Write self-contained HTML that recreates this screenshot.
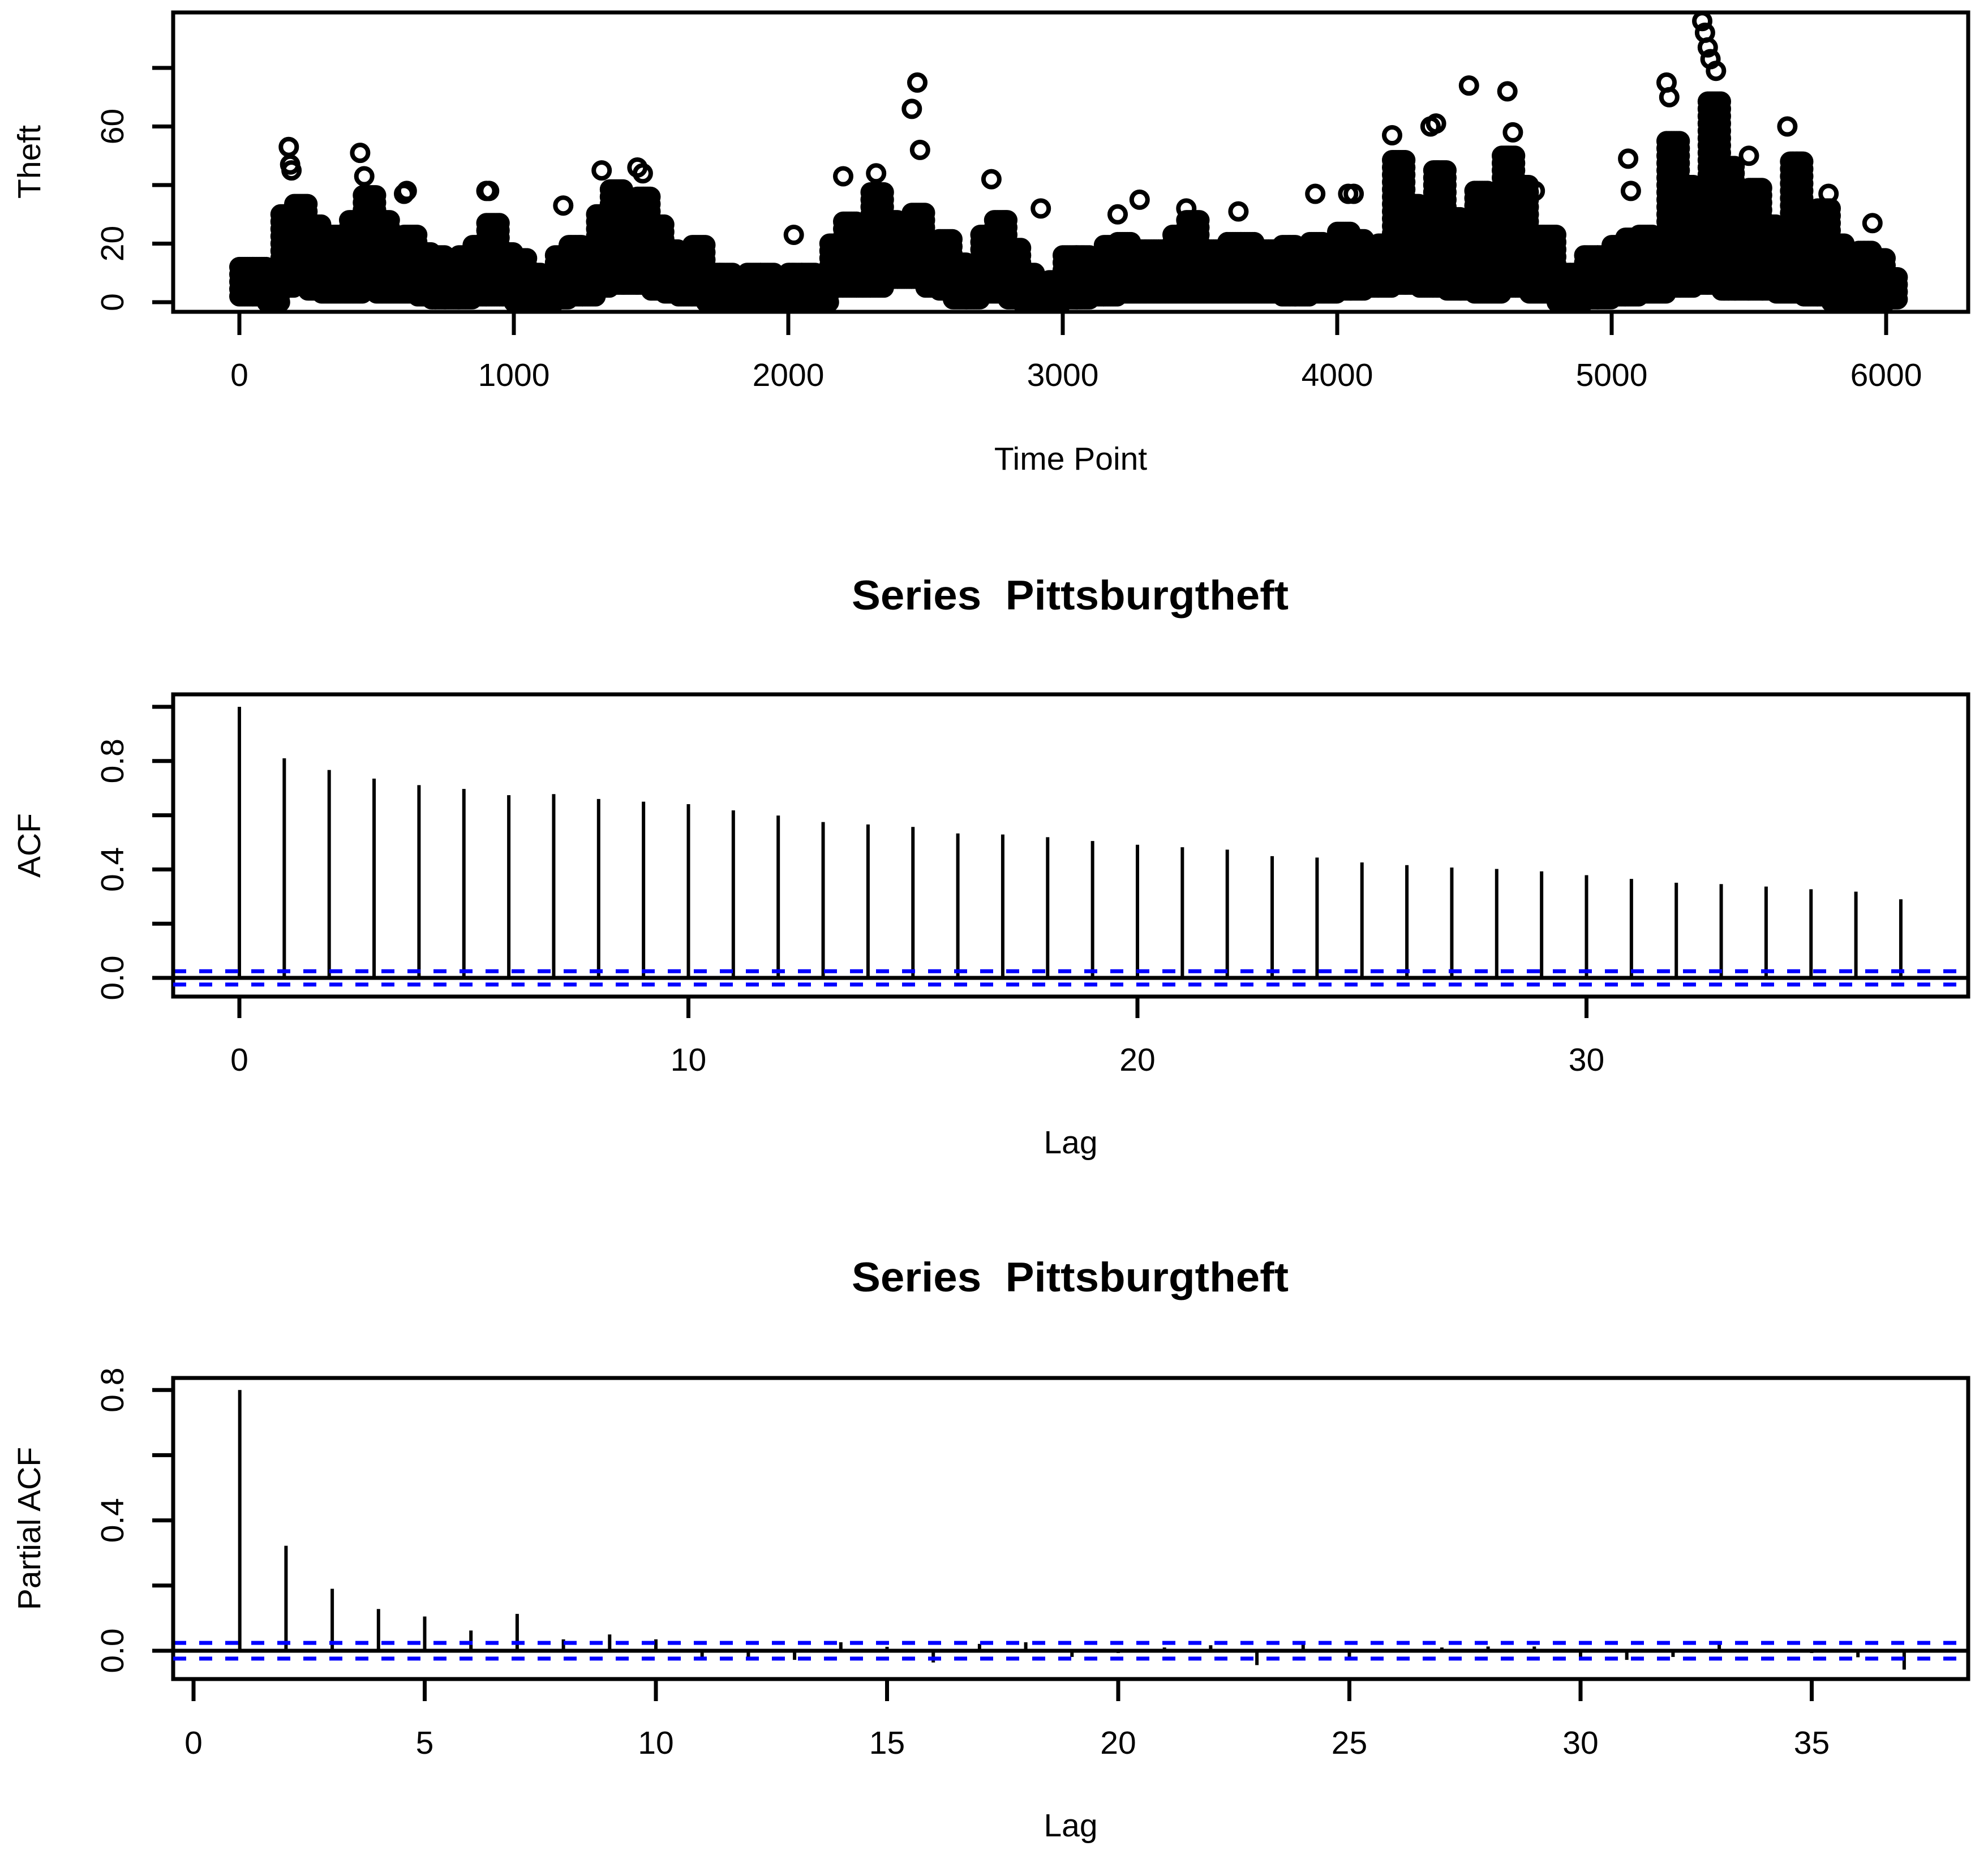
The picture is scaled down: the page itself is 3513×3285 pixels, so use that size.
<!DOCTYPE html>
<html><head><meta charset="utf-8">
<style>
html,body{margin:0;padding:0;background:#fff;}
svg{display:block;}
text{font-family:"Liberation Sans",Arial,sans-serif;fill:#000;}
</style></head>
<body>
<svg id="chart" width="3513" height="3285" viewBox="0 0 3513 3285" xmlns="http://www.w3.org/2000/svg">
<rect x="0" y="0" width="3513" height="3285" fill="#fff"/>
<g id="p1"></g>
<g id="p2"></g>
<g id="p3"></g>
</svg>
<script>
// ---- Panel 1 data: Theft envelope per 50-time-point window ----
const binWidth = 50;
const binHigh = [14,14,10,30,35,28,25,25,30,38,28,22,25,18,16,14,18,20,28,18,15,12,8,18,20,12,30,40,30,38,28,18,18,20,12,12,8,10,12,8,12,10,6,20,28,25,38,30,25,32,22,22,15,10,25,30,20,12,6,8,16,18,14,20,22,20,18,18,25,28,20,18,22,22,18,18,20,18,22,20,25,22,18,20,50,35,22,45,30,25,40,28,50,42,25,25,12,10,16,18,20,22,24,20,55,40,25,70,48,30,40,28,20,50,20,32,20,12,18,15,10];
const binLow  = [2,2,0,5,6,4,3,3,3,4,3,3,3,2,1,1,1,2,2,2,0,0,0,1,2,2,5,6,6,6,4,3,2,2,0,0,0,0,0,0,0,0,0,5,5,5,5,8,8,8,5,4,1,1,3,3,1,0,0,0,1,1,2,2,3,3,3,3,3,3,3,3,3,3,3,3,2,2,3,3,4,4,5,5,6,6,5,5,4,4,3,3,5,5,3,3,0,0,1,1,2,2,3,3,5,5,6,6,4,4,4,4,3,3,2,2,0,0,0,0,1];
const outT = [180,185,190,440,455,600,610,900,910,1180,1320,1450,1470,2020,2200,2320,2450,2470,2480,2740,2920,3200,3280,3450,3640,3920,4040,4060,4200,4340,4360,4480,4620,4640,4720,5060,5070,5200,5210,5330,5340,5350,5360,5380,5500,5640,5790,5950];
const outV = [53,47,45,51,43,37,38,38,38,33,45,46,44,23,43,44,66,75,52,42,32,30,35,32,31,37,37,37,57,60,61,74,72,58,38,49,38,75,70,96,92,87,83,79,50,60,37,27];
const p1XTicks = [0,1000,2000,3000,4000,5000,6000];
const p1YTicks = [0,20,40,60,80];
const p1YLabels = ["0","20","","60",""];

// ---- Panel 2 data: ACF ----
const acfLags = [0,1,2,3,4,5,6,7,8,9,10,11,12,13,14,15,16,17,18,19,20,21,22,23,24,25,26,27,28,29,30,31,32,33,34,35,36,37];
const acfVals = [1.0,0.81,0.767,0.735,0.711,0.697,0.674,0.678,0.66,0.65,0.641,0.618,0.599,0.575,0.566,0.557,0.533,0.529,0.519,0.505,0.491,0.482,0.473,0.449,0.444,0.426,0.416,0.407,0.402,0.393,0.379,0.365,0.351,0.346,0.337,0.327,0.318,0.29];
const acfXTicks = [0,10,20,30];
const acfYTicks = [0,0.2,0.4,0.6,0.8,1.0];
const acfYLabels = ["0.0","","0.4","","0.8",""];
const acfCI = 0.0245;

// ---- Panel 3 data: PACF ----
const pacfLags = [1,2,3,4,5,6,7,8,9,10,11,12,13,14,15,16,17,18,19,20,21,22,23,24,25,26,27,28,29,30,31,32,33,34,35,36,37];
const pacfVals = [0.80,0.322,0.19,0.128,0.105,0.062,0.113,0.035,0.05,0.035,-0.022,-0.028,-0.028,0.026,0.012,-0.036,0.021,0.026,-0.019,-0.007,0.010,0.017,-0.044,0.02,-0.026,0.006,0.01,0.013,0.013,-0.021,-0.028,-0.019,0.026,0.006,-0.007,-0.02,-0.058];
const pacfXTicks = [0,5,10,15,20,25,30,35];
const pacfYTicks = [0,0.2,0.4,0.6,0.8];
const pacfYLabels = ["0.0","","0.4","","0.8"];
const pacfCI = 0.024;

const NS = "http://www.w3.org/2000/svg";
function mk(parent, tag, attrs, txt){
  const e = document.createElementNS(NS, tag);
  for (const k in attrs) e.setAttribute(k, attrs[k]);
  if (txt !== undefined) e.textContent = txt;
  parent.appendChild(e);
  return e;
}
const FS = 57;
const BOXL = 306, BOXR = 3478;

function frame(g, top, bottom){
  const r = mk(g,'rect',{x:BOXL,y:top,width:BOXR-BOXL,height:bottom-top,fill:'none',stroke:'#000','stroke-width':7});
  
  
}
function xAxis(g, ticks, sx, bottom, tickEnd, labelY, title, titleY){
  const ax = mk(g,'g',{});
  
  
  mk(ax,'line',{x1:sx(ticks[0]),x2:sx(ticks[ticks.length-1]),y1:bottom,y2:bottom,stroke:'#000','stroke-width':7});
  ticks.forEach(t=>{
    const l = mk(ax,'line',{x1:sx(t),x2:sx(t),y1:bottom,y2:tickEnd,stroke:'#000','stroke-width':7});
    
    
    const tx = mk(ax,'text',{x:sx(t),y:labelY,'font-size':FS,'text-anchor':'middle','dominant-baseline':'central'},String(t));
    
    
  });
  const tt = mk(g,'text',{x:1892,y:titleY,'font-size':FS,'text-anchor':'middle','dominant-baseline':'central'},title);
  
  
}
function yAxis(g, ticks, labels, sy, title, midY){
  const ax = mk(g,'g',{});
  
  
  mk(ax,'line',{x1:BOXL,x2:BOXL,y1:sy(ticks[0]),y2:sy(ticks[ticks.length-1]),stroke:'#000','stroke-width':7});
  ticks.forEach((t,i)=>{
    const l = mk(ax,'line',{x1:269,x2:BOXL,y1:sy(t),y2:sy(t),stroke:'#000','stroke-width':7});
    
    
    if (labels[i]) {
      const tx = mk(ax,'text',{x:0,y:0,'font-size':FS,'text-anchor':'middle','dominant-baseline':'central',transform:'translate(199,'+sy(t)+') rotate(-90)'},labels[i]);
      
      
    }
  });
  const tt = mk(g,'text',{x:0,y:0,'font-size':FS,'text-anchor':'middle','dominant-baseline':'central',transform:'translate(52,'+midY+') rotate(-90)'},title);
  
  
}
function mainTitle(g, y){
  const t = mk(g,'text',{x:1891,y:y,'font-size':73,'font-weight':'bold','text-anchor':'middle',textLength:772,lengthAdjust:'spacingAndGlyphs'},'Series\u00a0\u00a0Pittsburgtheft');
  
  
}

// ===== Panel 1 =====
(function(){
  const g = document.getElementById('p1');
  const sx = t => 423 + t*0.485;
  const sy = v => 534 - v*5.175;
  const pts = mk(g,'g',{fill:'none',stroke:'#000','stroke-width':8});
  
  
  for (let b=0;b<binHigh.length;b++){
    const t0 = b*binWidth;
    const t1 = Math.min(t0+binWidth, 6045);
    for (let t=t0; t<t1; t+=6){
      for (let v=binLow[b]; v<=binHigh[b]; v+=2.5){
        const c = mk(pts,'circle',{cx:sx(t).toFixed(1),cy:sy(v).toFixed(1),r:14});
        
        
      }
    }
  }
  for (let i=0;i<outT.length;i++){
    const c = mk(pts,'circle',{cx:sx(outT[i]).toFixed(1),cy:sy(outV[i]).toFixed(1),r:14});
    
    
  }
  frame(g,22,551);
  xAxis(g,p1XTicks,sx,551,592,663,'Time Point',811);
  yAxis(g,p1YTicks,p1YLabels,sy,'Theft',286);
})();

// ===== Panel 2 =====
(function(){
  const g = document.getElementById('p2');
  const sx = l => 423 + l*79.35;
  const sy = v => 1728 - v*479;
  mainTitle(g,1077);
  frame(g,1227,1761);
  const spikes = mk(g,'g',{stroke:'#000','stroke-width':6});
  
  
  for (let i=0;i<acfLags.length;i++){
    const l = mk(spikes,'line',{x1:sx(acfLags[i]),x2:sx(acfLags[i]),y1:sy(0),y2:sy(acfVals[i])});
    
    
  }
  const z = mk(g,'line',{x1:BOXL,x2:BOXR,y1:sy(0),y2:sy(0),stroke:'#000','stroke-width':7});
  
  
  [acfCI,-acfCI].forEach(c=>{
    const l = mk(g,'line',{x1:BOXL,x2:BOXR,y1:sy(c),y2:sy(c),stroke:'#0000ff','stroke-width':7,'stroke-dasharray':'23 23'});
    
    
  });
  xAxis(g,acfXTicks,sx,1761,1799,1873,'Lag',2019);
  yAxis(g,acfYTicks,acfYLabels,sy,'ACF',1494);
})();

// ===== Panel 3 =====
(function(){
  const g = document.getElementById('p3');
  const sx = l => 342 + l*81.7;
  const sy = v => 2917 - v*576;
  mainTitle(g,2282);
  frame(g,2435,2967);
  const spikes = mk(g,'g',{stroke:'#000','stroke-width':6});
  
  
  for (let i=0;i<pacfLags.length;i++){
    const l = mk(spikes,'line',{x1:sx(pacfLags[i]),x2:sx(pacfLags[i]),y1:sy(0),y2:sy(pacfVals[i])});
    
    
  }
  const z = mk(g,'line',{x1:BOXL,x2:BOXR,y1:sy(0),y2:sy(0),stroke:'#000','stroke-width':7});
  
  
  [pacfCI,-pacfCI].forEach(c=>{
    const l = mk(g,'line',{x1:BOXL,x2:BOXR,y1:sy(c),y2:sy(c),stroke:'#0000ff','stroke-width':7,'stroke-dasharray':'23 23'});
    
    
  });
  xAxis(g,pacfXTicks,sx,2967,3006,3080,'Lag',3226);
  yAxis(g,pacfYTicks,pacfYLabels,sy,'Partial ACF',2701);
})();
</script>
</body></html>
